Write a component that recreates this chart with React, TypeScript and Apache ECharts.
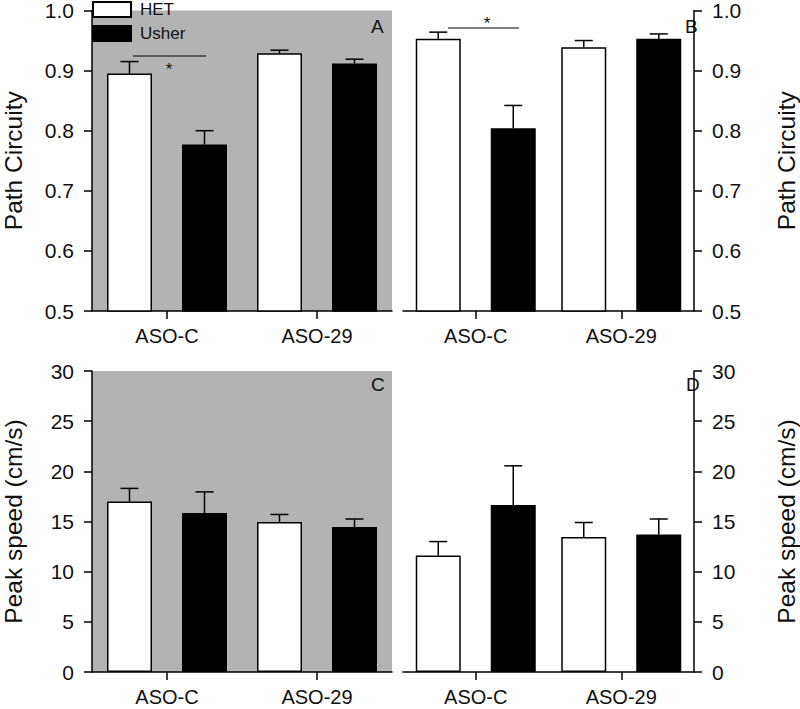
import React, { useEffect, useRef } from "react";
import * as echarts from "echarts";

const categories = ["ASO-C", "ASO-29"];
const seriesNames = ["HET", "Usher"];

// Panel A: Path Circuity (gray panel)
const aHET = [0.895, 0.929];
const aHETErr = [0.02, 0.005];
const aUsher = [0.777, 0.912];
const aUsherErr = [0.023, 0.007];

// Panel B: Path Circuity (white panel)
const bHET = [0.953, 0.939];
const bHETErr = [0.011, 0.011];
const bUsher = [0.804, 0.953];
const bUsherErr = [0.038, 0.008];

// Panel C: Peak speed (gray panel)
const cHET = [17.0, 14.95];
const cHETErr = [1.3, 0.75];
const cUsher = [15.85, 14.45];
const cUsherErr = [2.1, 0.8];

// Panel D: Peak speed (white panel)
const dHET = [11.6, 13.45];
const dHETErr = [1.4, 1.45];
const dUsher = [16.65, 13.7];
const dUsherErr = [3.9, 1.55];

const circuityTicks = { min: 0.5, max: 1.0, interval: 0.1 };
const speedTicks = { min: 0, max: 30, interval: 5 };

const FONT = "'Liberation Sans', Arial, sans-serif";
const TEXT = "#111";
const GRAY = "#b3b3b3";
const BAR_W = 45;
const GAP_PX = 30;

export default function App() {
  const ref = useRef<HTMLDivElement>(null);
  useEffect(() => {
    if (!ref.current) return;
    const chart = echarts.init(ref.current, null, { renderer: "svg" });

    const grids = [
      { left: 89, top: 10, width: 303, height: 301, gray: true },
      { left: 403, top: 10, width: 302, height: 301, gray: false },
      { left: 89, top: 371, width: 303, height: 301, gray: true },
      { left: 403, top: 371, width: 302, height: 301, gray: false },
    ];

    const panels = [
      { het: aHET, hetErr: aHETErr, us: aUsher, usErr: aUsherErr, ticks: circuityTicks, name: "Path Circuity", right: false, dec: 1 },
      { het: bHET, hetErr: bHETErr, us: bUsher, usErr: bUsherErr, ticks: circuityTicks, name: "Path Circuity", right: true, dec: 1 },
      { het: cHET, hetErr: cHETErr, us: cUsher, usErr: cUsherErr, ticks: speedTicks, name: "Peak speed (cm/s)", right: false, dec: 0 },
      { het: dHET, hetErr: dHETErr, us: dUsher, usErr: dUsherErr, ticks: speedTicks, name: "Peak speed (cm/s)", right: true, dec: 0 },
    ];

    const axisLine = { show: true, lineStyle: { color: "#000", width: 1.5 } };

    const xAxis = panels.map((_, i) => ({
      type: "category",
      gridIndex: i,
      data: categories,
      axisLine: { ...axisLine, onZero: false },
      axisTick: { show: true, alignWithLabel: true, length: 8, lineStyle: { color: "#000", width: 1.5 } },
      axisLabel: { color: TEXT, fontSize: 20, fontFamily: FONT, margin: 15 },
      splitLine: { show: false },
    }));

    const yAxis = panels.map((p, i) => ({
      type: "value",
      gridIndex: i,
      position: p.right ? "right" : "left",
      min: p.ticks.min,
      max: p.ticks.max,
      interval: p.ticks.interval,
      name: p.name,
      nameLocation: "middle",
      nameRotate: 90,
      nameGap: p.right ? 80 : 66,
      nameTextStyle: { color: TEXT, fontSize: 24.5, fontFamily: FONT },
      axisLine,
      axisTick: { show: true, length: 8, lineStyle: { color: "#000", width: 1.5 } },
      axisLabel: {
        color: TEXT,
        fontSize: 21,
        fontFamily: FONT,
        margin: 18,
        formatter: (v: number) => v.toFixed(p.dec),
      },
      splitLine: { show: false },
    }));

    const series: any[] = [];
    const errRender = (offset: number) => (params: any, api: any) => {
      const idx = api.value(0);
      const top = api.coord([idx, api.value(2)]);
      const base = api.coord([idx, api.value(1)]);
      const x = top[0] + offset;
      const style = { stroke: "#000", lineWidth: 1.5 };
      return {
        type: "group",
        children: [
          { type: "line", shape: { x1: x, y1: base[1], x2: x, y2: top[1] }, style },
          { type: "line", shape: { x1: x - 9, y1: top[1], x2: x + 9, y2: top[1] }, style },
        ],
      };
    };

    panels.forEach((p, i) => {
      series.push({
        name: seriesNames[0],
        type: "bar",
        xAxisIndex: i,
        yAxisIndex: i,
        data: p.het,
        barWidth: BAR_W,
        barGap: `${(GAP_PX / BAR_W) * 100}%`,
        itemStyle: { color: "#fff", borderColor: "#000", borderWidth: 1.5 },
        z: 3,
      });
      series.push({
        name: seriesNames[1],
        type: "bar",
        xAxisIndex: i,
        yAxisIndex: i,
        data: p.us,
        barWidth: BAR_W,
        barGap: `${(GAP_PX / BAR_W) * 100}%`,
        itemStyle: { color: "#000", borderColor: "#000", borderWidth: 1.5 },
        z: 3,
      });
      const off = (BAR_W + GAP_PX) / 2;
      series.push({
        type: "custom",
        xAxisIndex: i,
        yAxisIndex: i,
        renderItem: errRender(-off),
        data: p.het.map((v, k) => [k, v, v + p.hetErr[k]]),
        z: 2,
      });
      series.push({
        type: "custom",
        xAxisIndex: i,
        yAxisIndex: i,
        renderItem: errRender(off),
        data: p.us.map((v, k) => [k, v, v + p.usErr[k]]),
        z: 2,
      });
    });

    const letterStyle = { fill: TEXT, fontSize: 19, fontFamily: FONT };
    const graphic = [
      { type: "text", left: 371, top: 17, style: { ...letterStyle, text: "A" } },
      { type: "text", left: 685, top: 17, style: { ...letterStyle, text: "B" } },
      { type: "text", left: 371, top: 375, style: { ...letterStyle, text: "C" } },
      { type: "text", left: 686, top: 375, style: { ...letterStyle, text: "D" } },
      { type: "line", shape: { x1: 133, y1: 56, x2: 206, y2: 56 }, style: { stroke: "#000", lineWidth: 1 } },
      { type: "text", x: 169, y: 69, style: { text: "*", fill: TEXT, fontSize: 17, fontFamily: FONT, align: "center", verticalAlign: "middle" } },
      { type: "line", shape: { x1: 448, y1: 28, x2: 519, y2: 28 }, style: { stroke: "#000", lineWidth: 1 } },
      { type: "text", x: 487, y: 23, style: { text: "*", fill: TEXT, fontSize: 17, fontFamily: FONT, align: "center", verticalAlign: "middle" } },
    ];

    chart.setOption({
      animation: false,
      backgroundColor: "#fff",
      textStyle: { fontFamily: FONT },
      grid: grids.map((g) => ({
        left: g.left,
        top: g.top,
        width: g.width,
        height: g.height,
        show: g.gray,
        backgroundColor: g.gray ? GRAY : "transparent",
        borderWidth: 0,
        containLabel: false,
      })),
      legend: {
        data: seriesNames,
        orient: "vertical",
        left: 92,
        top: 1,
        itemWidth: 38,
        itemHeight: 15,
        itemGap: 7,
        icon: "rect",
        padding: 0,
        textStyle: { color: TEXT, fontSize: 17, fontFamily: FONT, padding: [0, 0, 0, 4] },
        z: 10,
      },
      xAxis,
      yAxis,
      series,
      graphic,
    });
    return () => chart.dispose();
  }, []);
  return (
    <div
      ref={ref}
      style={{ position: "fixed", left: 0, top: 0, width: 800, height: 709, background: "#fff" }}
    />
  );
}
